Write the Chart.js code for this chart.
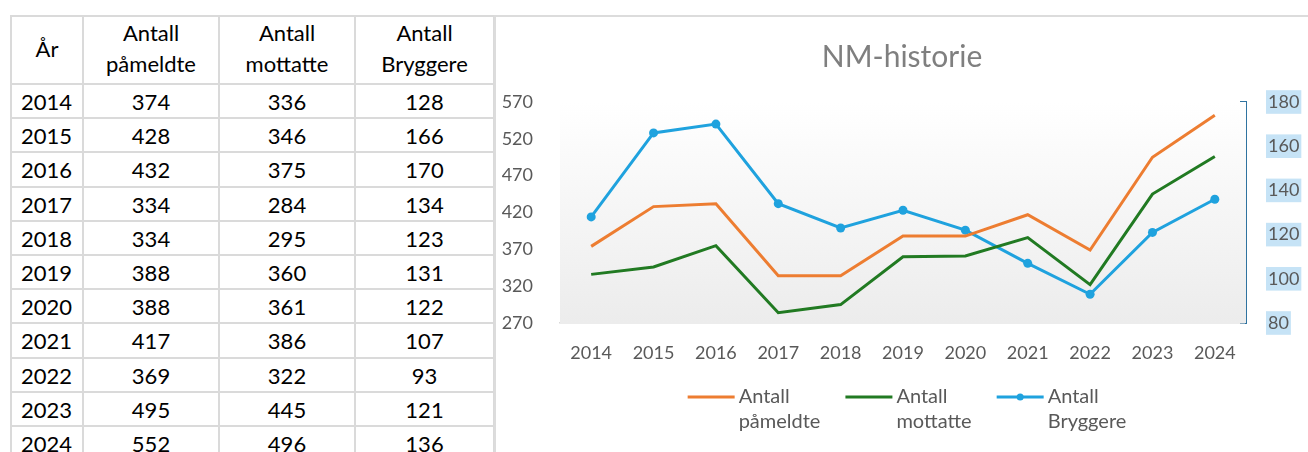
<!DOCTYPE html>
<html><head><meta charset="utf-8">
<script src="https://cdn.jsdelivr.net/npm/chart.js@4.4.1/dist/chart.umd.min.js"></script>
<style>
html,body{margin:0;padding:0;background:#fff;width:1308px;height:452px;overflow:hidden;font-family:Lato, sans-serif;}
#tbl{position:absolute;left:0;top:0;width:500px;height:452px;}
.cell{position:absolute;box-sizing:border-box;border-left:2px solid #dadada;border-top:2px solid #dadada;color:#000;font-size:22px;display:flex;align-items:center;justify-content:center;text-align:center;line-height:27px;white-space:pre;padding-bottom:1px;}
.cell.head{line-height:31px;padding-bottom:6px;}
.cell.yr{justify-content:flex-start;padding-left:9px;}
.cell.last{border-right:2px solid #dadada;}
#frame{position:absolute;left:494px;top:15px;width:814px;height:437px;border-left:2px solid #dcdcdc;border-top:2px solid #dcdcdc;box-sizing:border-box;}
#wrap{position:absolute;left:496px;top:17px;width:812px;height:435px;}
</style></head>
<body>
<div id="tbl"></div>
<div id="frame"></div>
<div id="wrap"><canvas id="c" width="812" height="435"></canvas></div>
<script>
// ---- data ----
const years = ['2014','2015','2016','2017','2018','2019','2020','2021','2022','2023','2024'];
const pameldte = [374,428,432,334,334,388,388,417,369,495,552];
const mottatte = [336,346,375,284,295,360,361,386,322,445,496];
const bryggere = [128,166,170,134,123,131,122,107,93,121,136];
const leftTicks = [270,320,370,420,470,520,570];
const rightTicks = [80,100,120,140,160,180];
const tableHeaders = ['År','Antall\npåmeldte','Antall\nmottatte','Antall\nBryggere'];
const seriesNames = [['Antall','påmeldte'],['Antall','mottatte'],['Antall','Bryggere']];
const chartTitle = 'NM-historie';

// ---- table ----
const colX = [10,82,218,354,493];
const headTop = 15, headBottom = 83, rowH = 34.2;
const tbl = document.getElementById('tbl');
function addCell(txt, c, top, h, cls){
  const d = document.createElement('div');
  d.className = 'cell' + (cls ? ' ' + cls : '') + (c === 3 ? ' last' : '');
  d.style.left = colX[c] + 'px';
  d.style.top = top + 'px';
  d.style.width = (colX[c+1] - colX[c] + (c === 3 ? 2 : 0)) + 'px';
  d.style.height = (h + 2) + 'px';
  d.textContent = txt;
  tbl.appendChild(d);
}
tableHeaders.forEach((h,c)=>addCell(h,c,headTop,headBottom-headTop,'head'));
years.forEach((y,i)=>{
  const top = headBottom + i*rowH;
  addCell(y,0,top,rowH,'yr');
  addCell(String(pameldte[i]),1,top,rowH);
  addCell(String(mottatte[i]),2,top,rowH);
  addCell(String(bryggere[i]),3,top,rowH);
});

// ---- chart ----
const ORANGE = '#ED7D31', GREEN = '#217a22', BLUE = '#1FA2DE', AXISBLUE = '#2f73a0';
const TXT = '#595959';
const FONT = 'Lato';

const bgPlugin = {
  id: 'bg',
  beforeDatasetsDraw(chart){
    const {ctx, chartArea:a} = chart;
    const g = ctx.createLinearGradient(0, a.top, 0, a.bottom);
    g.addColorStop(0, '#ffffff');
    g.addColorStop(1, '#ececec');
    ctx.save();
    ctx.fillStyle = g;
    ctx.fillRect(a.left, a.top, a.right - a.left, a.bottom - a.top);
    ctx.restore();
  }
};

const legendPlugin = {
  id: 'customLegend',
  afterDraw(chart){
    const {ctx, chartArea:a} = chart;
    ctx.save();
    ctx.font = '20px ' + FONT;
    ctx.textBaseline = 'middle';
    ctx.textAlign = 'left';
    const lineLen = 47, gapTxt = 4, gapItem = 25, lh = 25;
    const ds = chart.data.datasets;
    const widths = ds.map(d => lineLen + gapTxt + Math.max(...d.label.map(t => ctx.measureText(t).width)));
    const total = widths.reduce((s,w)=>s+w,0) + gapItem*(ds.length-1);
    let x = (a.left + a.right)/2 + 4 - total/2;
    const y = a.bottom + 74;
    ds.forEach((d,i)=>{
      ctx.strokeStyle = d.borderColor;
      ctx.lineWidth = 3;
      ctx.beginPath(); ctx.moveTo(x, y); ctx.lineTo(x+lineLen, y); ctx.stroke();
      if (d.pointRadius > 0){
        ctx.fillStyle = d.borderColor;
        ctx.beginPath(); ctx.arc(x+lineLen/2, y, 3.5, 0, Math.PI*2); ctx.fill();
      }
      ctx.fillStyle = TXT;
      d.label.forEach((t,k)=>ctx.fillText(t, x+lineLen+gapTxt, y + k*lh));
      x += widths[i] + gapItem;
    });
    ctx.restore();
  }
};

new Chart(document.getElementById('c'), {
  type: 'line',
  data: {
    labels: years,
    datasets: [
      {label: seriesNames[0], data: pameldte, borderColor: ORANGE, backgroundColor: ORANGE, borderWidth: 3, pointRadius: 0, yAxisID: 'y', tension: 0},
      {label: seriesNames[1], data: mottatte, borderColor: GREEN, backgroundColor: GREEN, borderWidth: 3, pointRadius: 0, yAxisID: 'y', tension: 0},
      {label: seriesNames[2], data: bryggere, borderColor: BLUE, backgroundColor: BLUE, pointBackgroundColor: BLUE, pointBorderWidth: 0, borderWidth: 3, pointRadius: 4.5, yAxisID: 'y2', tension: 0}
    ]
  },
  options: {
    responsive: false,
    animation: false,
    devicePixelRatio: 1,
    layout: {padding: {left: 0, right: 0, top: 0, bottom: 79}},
    plugins: {
      legend: {display: false},
      tooltip: {enabled: false},
      title: {display: true, text: chartTitle, color: '#7f7f7f', font: {family: FONT, size: 30, weight: 'normal'}, padding: {top: 22, bottom: 27}}
    },
    scales: {
      x: {
        offset: true,
        grid: {display: false},
        border: {display: true, color: '#d9d9d9', width: 1.5},
        ticks: {color: TXT, font: {family: FONT, size: 18}, padding: 11, maxRotation: 0, autoSkip: false},
        afterFit(s){ s.height = 50; }
      },
      y: {
        position: 'left',
        min: 270, max: 570,
        grid: {display: false},
        border: {display: false},
        ticks: {color: TXT, font: {family: FONT, size: 18}, padding: 19},
        afterBuildTicks(s){ s.ticks = leftTicks.map(v=>({value:v})); },
        afterFit(s){ s.width = 64; }
      },
      y2: {
        position: 'right',
        min: 80, max: 180,
        grid: {display: true, drawOnChartArea: false, drawTicks: true, tickLength: -6, color: AXISBLUE, lineWidth: 2},
        border: {display: true, color: AXISBLUE, width: 2},
        ticks: {color: TXT, font: {family: FONT, size: 18}, padding: 28, showLabelBackdrop: true, backdropColor: '#c6e3f6', backdropPadding: {left: 2, right: 2, top: 1, bottom: 1}},
        afterBuildTicks(s){ s.ticks = rightTicks.map(v=>({value:v})); },
        afterFit(s){ s.width = 62; }
      }
    }
  },
  plugins: [bgPlugin, legendPlugin]
});
</script>
</body></html>
